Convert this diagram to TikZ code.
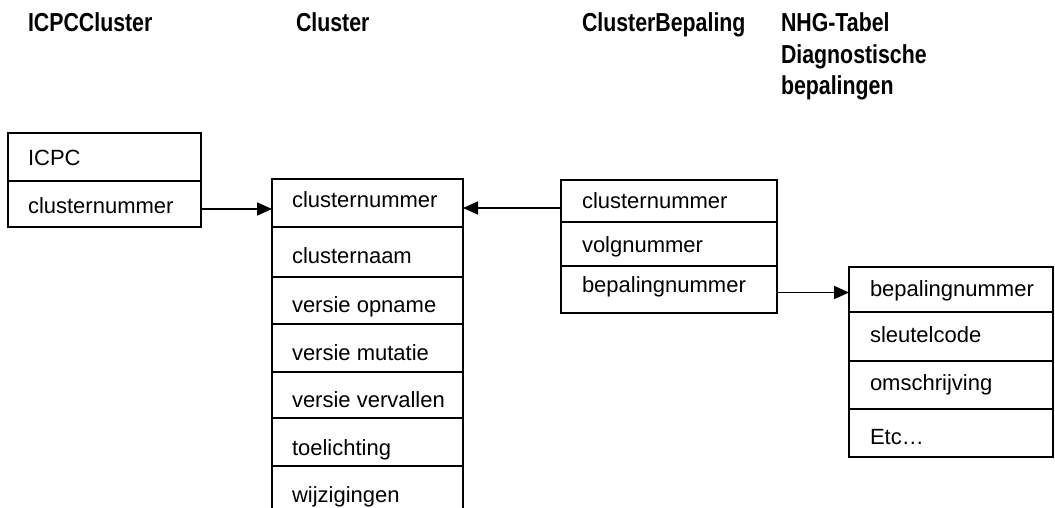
\documentclass[tikz,border=0pt]{standalone}
\usepackage{fontspec}
\setmainfont{Liberation Sans}
\newfontfamily\hdrfont{Liberation Sans}[FakeStretch=0.82]
\usetikzlibrary{arrows.meta}
\begin{document}
\begin{tikzpicture}[x=1pt,y=-1pt,
  every node/.style={inner sep=0pt,outer sep=0pt},
  rowbox/.style={draw=black,line width=1.7pt,rectangle},
  txt/.style={anchor=base west,font=\fontsize{22}{26}\selectfont},
  hdr/.style={anchor=base west,font=\hdrfont\bfseries\fontsize{26}{31}\selectfont},
  link/.style={draw=black,line width=1.7pt,-{Triangle[length=15pt,width=13pt]}}]
\useasboundingbox[fill=white] (0,0) rectangle (1055,508);
% headers
\node[hdr] (h1) at (28,32) {ICPCCluster};
\node[hdr] (h2) at (296,32) {Cluster};
\node[hdr] (h3) at (582,32) {ClusterBepaling};
\node[hdr] (h4a) at (781,32) {NHG-Tabel};
\node[hdr] (h4b) at (781,63.5) {Diagnostische};
\node[hdr] (h4c) at (781,95) {bepalingen};
% ICPCCluster table
\node[rowbox,minimum width=193pt,minimum height=48pt] (i1) at (104.5,157) {};
\node[rowbox,minimum width=193pt,minimum height=46pt] (i2) at (104.5,204) {};
\node[txt] (ti1) at (28,165) {ICPC};
\node[txt] (ti2) at (28,213) {clusternummer};
% Cluster table
\node[rowbox,minimum width=191pt,minimum height=48pt] (c1) at (367.5,203) {};
\node[rowbox,minimum width=191pt,minimum height=50pt] (c2) at (367.5,252) {};
\node[rowbox,minimum width=191pt,minimum height=47pt] (c3) at (367.5,300.5) {};
\node[rowbox,minimum width=191pt,minimum height=48pt] (c4) at (367.5,348) {};
\node[rowbox,minimum width=191pt,minimum height=46pt] (c5) at (367.5,395) {};
\node[rowbox,minimum width=191pt,minimum height=48pt] (c6) at (367.5,442) {};
\draw[line width=1.7pt] (272,510) -- (272,466) -- (463,466) -- (463,510);
\draw[line width=2.8pt] (c1.south west) -- (c1.south east);
\draw[line width=2.8pt] (c6.north west) -- (c6.north east);
\node[txt] (tc1) at (292,207) {clusternummer};
\node[txt] (tc2) at (292,263) {clusternaam};
\node[txt] (tc3) at (292,312) {versie opname};
\node[txt] (tc4) at (292,360) {versie mutatie};
\node[txt] (tc5) at (292,407) {versie vervallen};
\node[txt] (tc6) at (292,455) {toelichting};
\node[txt] (tc7) at (292,502) {wijzigingen};
% ClusterBepaling table
\node[rowbox,minimum width=216pt,minimum height=42pt] (b1) at (669,201) {};
\node[rowbox,minimum width=216pt,minimum height=44pt] (b2) at (669,244) {};
\node[rowbox,minimum width=216pt,minimum height=47pt] (b3) at (669,289.5) {};
\node[txt] (tb1) at (582,208) {clusternummer};
\node[txt] (tb2) at (582,252) {volgnummer};
\node[txt] (tb3) at (582,292) {bepalingnummer};
% NHG table
\node[rowbox,minimum width=204pt,minimum height=45pt] (n1) at (951,289.5) {};
\node[rowbox,minimum width=204pt,minimum height=49pt] (n2) at (951,336.5) {};
\node[rowbox,minimum width=204pt,minimum height=48pt] (n3) at (951,385) {};
\node[rowbox,minimum width=204pt,minimum height=48pt] (n4) at (951,433) {};
\node[txt] (tn1) at (870,296) {bepalingnummer};
\node[txt] (tn2) at (870,342) {sleutelcode};
\node[txt] (tn3) at (870,390) {omschrijving};
\node[txt] (tn4) at (870,444) {Etc…};
% connectors
\draw[link] ([yshift=-5pt]i2.east) -- ([yshift=-5pt]i2.east -| c1.west);
\draw[link] ([yshift=-7pt]b1.west) -- ([yshift=-7pt]b1.west -| c1.east);
\draw[link] ([yshift=-3pt]b3.east) -- ([yshift=-3pt]b3.east -| n1.west);
\end{tikzpicture}
\end{document}
